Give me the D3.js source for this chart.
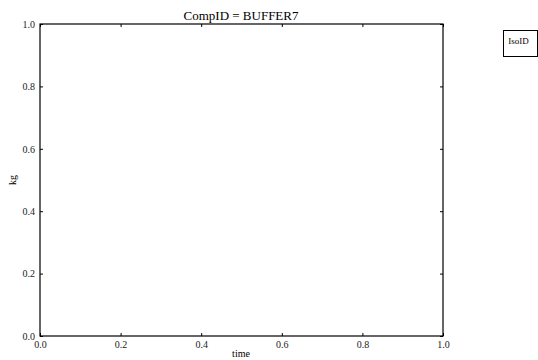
<!DOCTYPE html>
<html><head><meta charset="utf-8">
<script src="https://cdn.jsdelivr.net/npm/d3@7"></script>
<style>body{margin:0;background:#fff}svg{display:block}</style>
</head><body><svg id="c" width="538" height="360"></svg>
<script>
const xTicks = [0, 0.2, 0.4, 0.6, 0.8, 1.0];
const yTicks = [0, 0.2, 0.4, 0.6, 0.8, 1.0];
const xDomain = [0, 1];
const yDomain = [0, 1];
const title = "CompID = BUFFER7";
const xLabel = "time";
const yLabel = "kg";
const legendTitle = "IsoID";

const FONT = "'Times New Roman', 'Liberation Serif', 'DejaVu Serif', serif";
const svg = d3.select("#c");
const L = 40, R = 443, T = 24, B = 336;
const x = d3.scaleLinear().domain(xDomain).range([L, R]);
const y = d3.scaleLinear().domain(yDomain).range([B, T]);
const fmt = d3.format(".1f");

svg.append("rect").attr("x", L).attr("y", T).attr("width", R - L).attr("height", B - T)
  .attr("fill", "none").attr("stroke", "#000").attr("stroke-width", 1.2);

const gb = svg.append("g").attr("transform", `translate(0,${B})`)
  .call(d3.axisBottom(x).tickValues(xTicks).tickSize(-3).tickPadding(5).tickFormat(fmt));
const gt = svg.append("g").attr("transform", `translate(0,${T})`)
  .call(d3.axisTop(x).tickValues(xTicks).tickSize(-3).tickFormat(""));
const gl = svg.append("g").attr("transform", `translate(${L},0)`)
  .call(d3.axisLeft(y).tickValues(yTicks).tickSize(-3).tickPadding(5).tickFormat(fmt));
const gr = svg.append("g").attr("transform", `translate(${R},0)`)
  .call(d3.axisRight(y).tickValues(yTicks).tickSize(-3).tickFormat(""));
[gb, gt, gl, gr].forEach(g => {
  g.attr("font-family", null);
  g.select(".domain").remove();
  g.selectAll(".tick line").attr("stroke", "#000");
  g.selectAll("text").style("font-family", FONT).style("font-size", "10px").attr("fill", "#222");
});

svg.append("text").attr("x", 241).attr("y", 20).attr("text-anchor", "middle")
  .style("font-family", FONT).style("font-size", "13px").text(title);
svg.append("text").attr("x", 241).attr("y", 357).attr("text-anchor", "middle")
  .style("font-family", FONT).style("font-size", "10px").text(xLabel);
svg.append("text").attr("transform", "translate(16,180) rotate(-90)").attr("text-anchor", "middle")
  .style("font-family", FONT).style("font-size", "10px").text(yLabel);

svg.append("rect").attr("x", 503.5).attr("y", 30.5).attr("width", 34).attr("height", 26)
  .attr("fill", "#fff").attr("stroke", "#000").attr("stroke-width", 1);
svg.append("text").attr("x", 518.5).attr("y", 44).attr("text-anchor", "middle")
  .style("font-family", FONT).style("font-size", "9px").text(legendTitle);
</script></body></html>
